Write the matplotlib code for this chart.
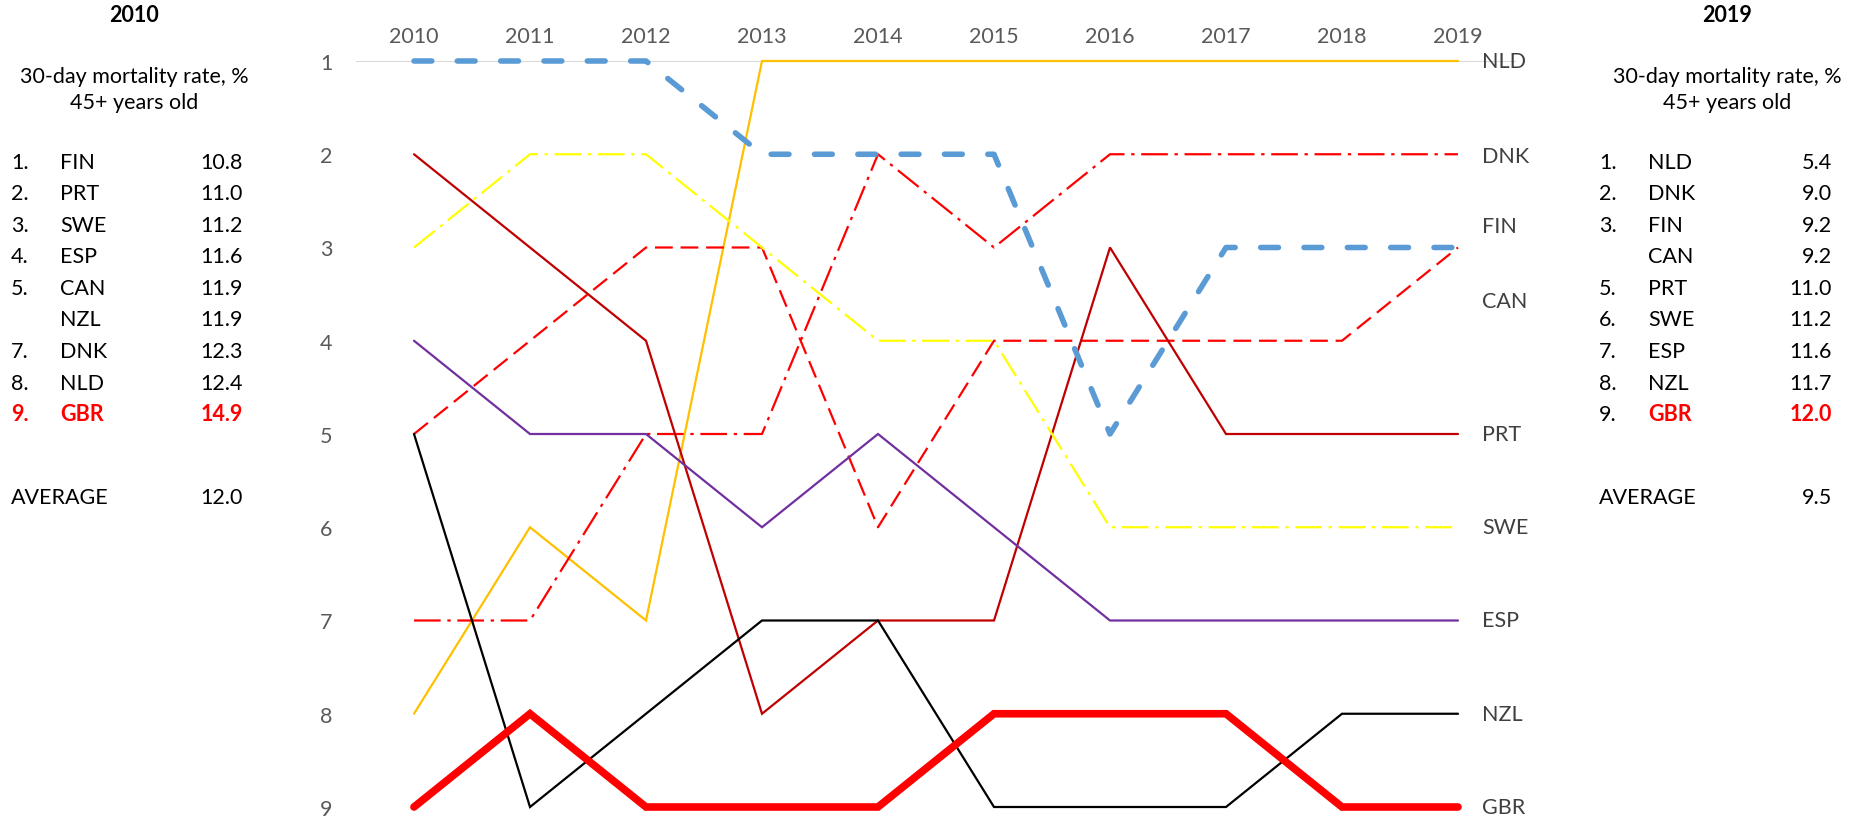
import matplotlib
matplotlib.use('Agg')
import matplotlib.pyplot as plt

# chart data: rank of each country per year (1 = lowest mortality)
years = ['2010', '2011', '2012', '2013', '2014', '2015', '2016', '2017', '2018', '2019']
nld = [8, 6, 7, 1, 1, 1, 1, 1, 1, 1]
dnk = [7, 7, 5, 5, 2, 3, 2, 2, 2, 2]
fin = [1, 1, 1, 2, 2, 2, 5, 3, 3, 3]
can = [5, 4, 3, 3, 6, 4, 4, 4, 4, 3]
prt = [2, 3, 4, 8, 7, 7, 3, 5, 5, 5]
swe = [3, 2, 2, 3, 4, 4, 6, 6, 6, 6]
esp = [4, 5, 5, 6, 5, 6, 7, 7, 7, 7]
nzl = [5, 9, 8, 7, 7, 9, 9, 9, 8, 8]
gbr = [9, 8, 9, 9, 9, 8, 8, 8, 9, 9]

# side tables
left_nums = ['1.', '2.', '3.', '4.', '5.', '', '7.', '8.', '9.']
left_countries = ['FIN', 'PRT', 'SWE', 'ESP', 'CAN', 'NZL', 'DNK', 'NLD', 'GBR']
left_values = [10.8, 11.0, 11.2, 11.6, 11.9, 11.9, 12.3, 12.4, 14.9]
left_avg = 12.0
right_nums = ['1.', '2.', '3.', '', '5.', '6.', '7.', '8.', '9.']
right_countries = ['NLD', 'DNK', 'FIN', 'CAN', 'PRT', 'SWE', 'ESP', 'NZL', 'GBR']
right_values = [5.4, 9.0, 9.2, 9.2, 11.0, 11.2, 11.6, 11.7, 12.0]
right_avg = 9.5

plt.rcParams['font.family'] = ['Lato', 'DejaVu Sans']

fig = plt.figure(figsize=(18.63, 8.2), dpi=100)
ax = fig.add_axes([356 / 1863, 1 - 808 / 820, 1160 / 1863, 746 / 820])
x = list(range(len(years)))

dashdot = (0, (12, 3, 1.5, 3))
series = [
    # name, ranks, colour, width, style, label y
    ('NLD', nld, '#FFC000', 1.6, '-', 1.0),
    ('DNK', dnk, '#FF0000', 1.6, dashdot, 2.02),
    ('CAN', can, '#FF0000', 1.6, (0, (8, 3.5)), 3.57),
    ('PRT', prt, '#C00000', 1.6, '-', 5.0),
    ('SWE', swe, '#FFFF00', 1.6, dashdot, 6.0),
    ('ESP', esp, '#7030A0', 1.6, '-', 7.0),
    ('NZL', nzl, '#000000', 1.6, '-', 8.0),
    ('FIN', fin, '#5B9BD5', 4.0, (0, (3.2, 4.6)), 2.77),
    ('GBR', gbr, '#FF0000', 5.5, '-', 9.0),
]

ax.axhline(1, color='#D9D9D9', lw=1.5, zorder=0)
for name, ranks, col, lw, ls, ly in series:
    ax.plot(x, ranks, color=col, lw=lw, linestyle=ls, clip_on=False,
            solid_capstyle='round', dash_capstyle='round' if name == 'FIN' else 'butt',
            solid_joinstyle='miter')
    ax.text(9.21, ly, name, fontsize=15.5, color='#404040', va='center', ha='left')

ax.set_xlim(-0.5, 9.5)
ax.set_ylim(9, 1)
ax.set_xticks(x)
ax.set_xticklabels(years)
ax.xaxis.tick_top()
ax.set_yticks(range(1, 10))
ax.tick_params(length=0, labelsize=15.5, colors='#595959')
ax.tick_params(axis='x', pad=11)
ax.tick_params(axis='y', pad=17)
for s in ax.spines.values():
    s.set_visible(False)

# side panels
row_y = [163 + 31.5 * i for i in range(9)]
fs = 15.5


def panel(title, cx, xnum, xname, xval, nums, names, vals, avg, red_num):
    fig.text(cx / 1863, 1 - 15 / 820, title, fontsize=fs, fontweight='bold', ha='center', va='center')
    fig.text(cx / 1863, 1 - 77 / 820, '30-day mortality rate, %', fontsize=fs, ha='center', va='center')
    fig.text(cx / 1863, 1 - 103 / 820, '45+ years old', fontsize=fs, ha='center', va='center')
    for i, (n, c, v) in enumerate(zip(nums, names, vals)):
        col = '#FF0000' if c == 'GBR' else 'black'
        fw = 'bold' if c == 'GBR' else 'normal'
        ncol = col if red_num else 'black'
        nfw = fw if red_num else 'normal'
        yy = 1 - row_y[i] / 820
        fig.text(xnum / 1863, yy, n, fontsize=fs, color=ncol, fontweight=nfw, va='center')
        fig.text(xname / 1863, yy, c, fontsize=fs, color=col, fontweight=fw, va='center')
        fig.text(xval / 1863, yy, f'{v:.1f}', fontsize=fs, color=col, fontweight=fw, va='center', ha='right')
    fig.text(xnum / 1863, 1 - 498 / 820, 'AVERAGE', fontsize=fs, va='center')
    fig.text(xval / 1863, 1 - 498 / 820, f'{avg:.1f}', fontsize=fs, va='center', ha='right')


panel('2010', 134, 11, 60, 243, left_nums, left_countries, left_values, left_avg, True)
panel('2019', 1727, 1599, 1648, 1832, right_nums, right_countries, right_values, right_avg, False)

fig.savefig('out.png', dpi=100)
